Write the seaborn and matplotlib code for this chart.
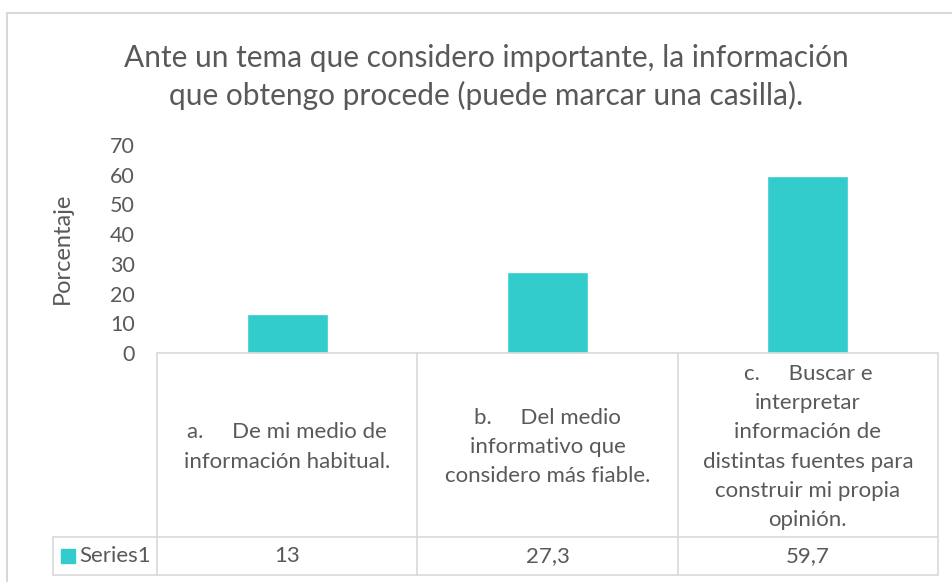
import matplotlib.pyplot as plt
import matplotlib.transforms as mtransforms
from matplotlib.lines import Line2D
from matplotlib.patches import Rectangle
import seaborn as sns
import pandas as pd

categories = [
    "a.     De mi medio de\ninformación habitual.",
    "b.     Del medio\ninformativo que\nconsidero más fiable.",
    "c.     Buscar e\ninterpretar\ninformación de\ndistintas fuentes para\nconstruir mi propia\nopinión.",
]
values = [13, 27.3, 59.7]
value_labels = ["13", "27,3", "59,7"]
series_name = "Series1"
y_ticks = [0, 10, 20, 30, 40, 50, 60, 70]

bar_color = "#33CCCC"
text_color = "#595959"
line_color = "#D9D9D9"

sns.set_style("white")
plt.rcParams["font.family"] = ["Lato", "DejaVu Sans"]

W, H = 952, 582
fig = plt.figure(figsize=(W / 100, H / 100), dpi=100)


def fx(x):
    return x / W


def fy(y):
    return 1 - y / H


# plot area in pixels
left, right, top, bottom = 157, 938, 145, 353
ax = fig.add_axes([fx(left), fy(bottom), fx(right - left), (bottom - top) / H])

df = pd.DataFrame({"cat": categories, "val": values})
sns.barplot(data=df, x="cat", y="val", color=bar_color, width=0.31,
            saturation=1, ax=ax)
ax.set_xlim(-0.5, len(categories) - 0.5)
ax.set_ylim(0, 70)
ax.set_yticks(y_ticks)
ax.set_yticklabels([str(t) for t in y_ticks], fontsize=15.5, color=text_color)
ax.tick_params(axis="y", length=0, pad=16)
ax.set_xticks([])
ax.set_xlabel("")
ax.set_ylabel("")
sns.despine(ax=ax, left=True, bottom=True)

fig.text(fx(62), fy(248), "Porcentaje", rotation=90, ha="center", va="center",
         fontsize=17, color=text_color)

fig.text(fx(486), fy(77),
         "Ante un tema que considero importante, la información\n"
         "que obtengo procede (puede marcar una casilla).",
         ha="center", va="center", fontsize=21.5, color=text_color,
         linespacing=1.4)

# outer chart border
fig.add_artist(Line2D([fx(7), fx(7)], [fy(13), fy(600)], color=line_color, lw=1.5))
fig.add_artist(Line2D([fx(7), fx(960)], [fy(13), fy(13)], color=line_color, lw=1.5))

# data table
row1, row2 = 537, 575
key_left = 53
col_edges = [left + (right - left) * i / len(categories) for i in range(len(categories) + 1)]
fig.add_artist(Line2D([fx(left), fx(right)], [fy(bottom), fy(bottom)], color=line_color, lw=1.2))
for y in (row1, row2):
    fig.add_artist(Line2D([fx(key_left), fx(right)], [fy(y), fy(y)], color=line_color, lw=1.2))
for x in col_edges:
    fig.add_artist(Line2D([fx(x), fx(x)], [fy(bottom), fy(row2)], color=line_color, lw=1.2))
fig.add_artist(Line2D([fx(key_left), fx(key_left)], [fy(row1), fy(row2)], color=line_color, lw=1.2))

trans = mtransforms.blended_transform_factory(ax.transData, fig.transFigure)
for i, (cat, lab) in enumerate(zip(categories, value_labels)):
    ax.text(i, fy(447), cat, transform=trans, ha="center", va="center",
            fontsize=16, color=text_color, linespacing=1.58, clip_on=False)
    ax.text(i, fy((row1 + row2) / 2), lab, transform=trans, ha="center", va="center",
            fontsize=16, color=text_color, clip_on=False)

fig.add_artist(Rectangle((fx(61), fy(563)), fx(14), 14 / H, color=bar_color))
fig.text(fx(79), fy((row1 + row2) / 2), series_name, ha="left", va="center",
         fontsize=16, color=text_color)

fig.savefig("out.png", dpi=100)
